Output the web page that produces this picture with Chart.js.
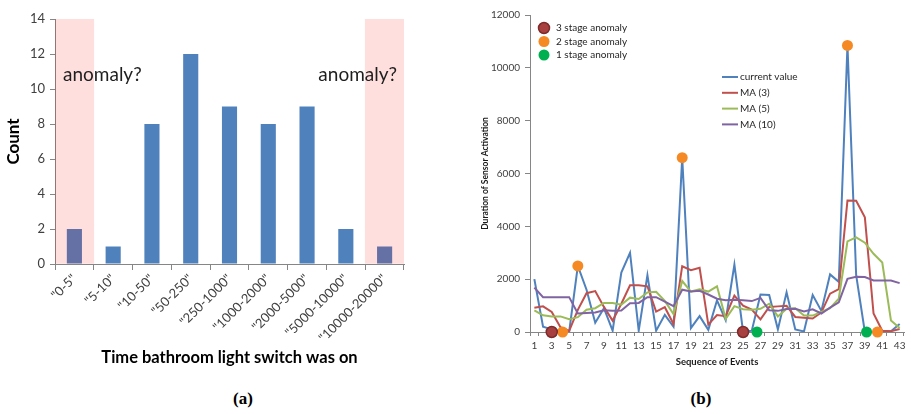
<!DOCTYPE html>
<html>
<head>
<meta charset="utf-8">
<script src="https://cdn.jsdelivr.net/npm/chart.js@4.4.1/dist/chart.umd.min.js"></script>
<style>
  html, body { margin: 0; padding: 0; background: #fff; width: 911px; height: 414px; overflow: hidden; }
  #wa { position: absolute; left: 0; top: 0; width: 455px; height: 372px; }
  #wb { position: absolute; left: 465px; top: 0; width: 446px; height: 372px; }
  .cap { position: absolute; top: 389px; font: bold 17px "Liberation Serif", serif; color: #000; transform: translateX(-50%); }
</style>
</head>
<body>
<div id="wa"><canvas id="ca" width="455" height="372"></canvas></div>
<div id="wb"><canvas id="cb" width="446" height="372"></canvas></div>
<div class="cap" style="left:243px">(a)</div>
<div class="cap" style="left:701px">(b)</div>
<script>
// ---------- (a) histogram of light-switch on-times ----------
const durationBins = ['"0-5"', '"5-10"', '"10-50"', '"50-250"', '"250-1000"', '"1000-2000"', '"2000-5000"', '"5000-10000"', '"10000-20000"'];
const binCounts = [2, 1, 8, 12, 9, 8, 9, 2, 1];
const anomalyBand = [14, null, null, null, null, null, null, null, 14];
const countTicks = [0, 2, 4, 6, 8, 10, 12, 14];
const anomalyNote = 'anomaly?';
const noteLevel = 10.8;

// ---------- (b) sensor activation durations ----------
const events = [1, 2, 3, 4, 5, 6, 7, 8, 9, 10, 11, 12, 13, 14, 15, 16, 17, 18, 19, 20, 21, 22,
  23, 24, 25, 26, 27, 28, 29, 30, 31, 32, 33, 34, 35, 36, 37, 38, 39, 40, 41, 42, 43];
const currentValue = [2000, 200, 100, 30, 0, 2500, 1600, 350, 900, 50, 2250, 3000, 50, 2150, 50, 650, 200, 6600, 150, 600, 80, 1200,
  450, 2550, 0, 50, 1420, 1400, 100, 1500, 100, 20, 1400, 800, 2180, 1900, 10850, 2150, 0, 0, 30, 30, 300];
const ma3 = [920, 970, 760, 180, 40, 840, 1470, 1550, 950, 430, 1070, 1770, 1770, 1730, 770, 940, 300, 2490, 2340, 2430, 280, 640,
  600, 1380, 1000, 850, 480, 950, 970, 990, 570, 540, 510, 740, 1450, 1620, 4980, 4970, 4340, 700, 50, 30, 110];
const ma5 = [820, 630, 590, 590, 480, 560, 840, 900, 1100, 1100, 1030, 1300, 1250, 1500, 1520, 1180, 680, 1930, 1530, 1620, 1530, 1730,
  500, 980, 860, 840, 880, 1070, 590, 880, 900, 620, 620, 760, 900, 1260, 3430, 3580, 3380, 2960, 2630, 440, 150];
const ma10 = [1680, 1320, 1320, 1320, 1320, 700, 720, 740, 820, 800, 810, 1090, 1100, 1320, 1320, 1150, 980, 1600, 1530, 1560, 1420, 1260,
  1200, 1220, 1200, 1170, 1290, 820, 800, 870, 880, 780, 860, 700, 920, 1120, 2010, 2090, 2080, 1950, 1950, 1950, 1850];
const durationTicks = [0, 2000, 4000, 6000, 8000, 10000, 12000];
const oddEventLabels = [1, 3, 5, 7, 9, 11, 13, 15, 17, 19, 21, 23, 25, 27, 29, 31, 33, 35, 37, 39, 41, 43];
const stage3Events = [3, 25];
const stage3Values = [0, 0];
const stage2Events = [4.25, 6, 18, 37, 40.45];
const stage2Values = [0, 2500, 6600, 10850, 0];
const stage1Events = [26.6, 39.2];
const stage1Values = [0, 0];

const AXIS = '#868686';
const TICK_TEXT = '#404040';
const SANS = 'Lato, "Liberation Sans", sans-serif';

Chart.defaults.font.family = SANS;

// notes written inside the shaded anomaly bins
const anomalyNotes = {
  id: 'anomalyNotes',
  afterDatasetsDraw(chart) {
    const { ctx, scales: { x, y } } = chart;
    const half = (x.getPixelForValue(1) - x.getPixelForValue(0)) / 2;
    const yy = y.getPixelForValue(noteLevel);
    ctx.save();
    ctx.font = '19px ' + SANS;
    ctx.fillStyle = '#1e1e1e';
    ctx.textBaseline = 'middle';
    ctx.textAlign = 'left';
    ctx.fillText(anomalyNote, x.getPixelForValue(0) - half + 8, yy);
    ctx.textAlign = 'right';
    ctx.fillText(anomalyNote, x.getPixelForValue(durationBins.length - 1) + half - 7, yy);
    ctx.restore();
  }
};

new Chart(document.getElementById('ca'), {
  type: 'bar',
  data: {
    labels: durationBins,
    datasets: [
      { label: 'anomaly band', data: anomalyBand, backgroundColor: 'rgba(255,0,0,0.13)',
        grouped: false, barPercentage: 1, categoryPercentage: 1, order: 0 },
      { label: 'Count', data: binCounts, backgroundColor: '#4F81BD',
        grouped: false, barPercentage: 0.39, categoryPercentage: 1, order: 1 }
    ]
  },
  options: {
    responsive: false,
    animation: false,
    layout: { padding: { left: 0, right: 51, top: 19, bottom: 0 } },
    plugins: { legend: { display: false }, tooltip: { enabled: false } },
    scales: {
      x: {
        grid: { display: true, drawOnChartArea: false, offset: true, tickLength: 6, color: AXIS },
        border: { color: AXIS },
        ticks: { minRotation: 45, maxRotation: 45, autoSkip: false, padding: 1, color: TICK_TEXT,
                 font: { size: 13 } },
        title: { display: true, text: 'Time bathroom light switch was on', color: '#000',
                 font: { size: 16.5, weight: 'bold' }, padding: { top: 0, bottom: 4 } },
        afterFit(s) { s.height = 108; }
      },
      y: {
        min: 0, max: 14,
        afterBuildTicks(s) { s.ticks = countTicks.map(v => ({ value: v })); },
        grid: { display: true, drawOnChartArea: false, tickLength: 5, color: AXIS },
        border: { color: AXIS },
        ticks: { padding: 5, color: TICK_TEXT, font: { size: 13 } },
        title: { display: true, text: 'Count', color: '#000',
                 font: { size: 17, weight: 'bold' }, padding: { top: 3, bottom: 0 } },
        afterFit(s) { s.width = 55; }
      }
    }
  },
  plugins: [anomalyNotes]
});

// two legends: anomaly stages (dots) and series (lines)
const eventLegends = {
  id: 'eventLegends',
  afterDraw(chart) {
    const { ctx, chartArea: { left, top } } = chart;
    const ds = chart.data.datasets;
    ctx.save();
    ctx.font = '10px ' + SANS;
    ctx.fillStyle = '#262626';
    ctx.textBaseline = 'middle';
    ctx.textAlign = 'left';
    ds.filter(d => d.isStage).forEach((d, k) => {
      const cy = top + 13 + k * 13.5;
      ctx.beginPath();
      ctx.arc(left + 14, cy, 5.5, 0, Math.PI * 2);
      ctx.fillStyle = d.backgroundColor;
      ctx.fill();
      if (d.borderWidth) { ctx.lineWidth = d.borderWidth; ctx.strokeStyle = d.borderColor; ctx.stroke(); }
      ctx.fillStyle = '#262626';
      ctx.fillText(d.label, left + 26, cy);
    });
    ds.filter(d => !d.isStage).forEach((d, k) => {
      const cy = top + 62 + k * 15.8;
      ctx.beginPath();
      ctx.moveTo(left + 192, cy);
      ctx.lineTo(left + 208, cy);
      ctx.lineWidth = 2;
      ctx.strokeStyle = d.borderColor;
      ctx.stroke();
      ctx.fillText(d.label, left + 210, cy);
    });
    ctx.restore();
  }
};

const pts = (xs, ys) => xs.map((x, i) => ({ x: x, y: ys[i] }));
const lineSet = (label, values, color, order) => ({
  label, data: pts(events, values), borderColor: color, backgroundColor: color,
  borderWidth: 2, pointRadius: 0, tension: 0, fill: false, order
});
const stageSet = (label, xs, ys, fill, ring) => ({
  label, data: pts(xs, ys), showLine: false, isStage: true, clip: false,
  backgroundColor: fill, borderColor: ring || fill, borderWidth: ring ? 1.5 : 0,
  pointRadius: 5.5, pointHoverRadius: 5.5, order: 0
});

new Chart(document.getElementById('cb'), {
  type: 'line',
  data: {
    datasets: [
      stageSet('3 stage anomaly', stage3Events, stage3Values, '#A8403F', '#7E2B2B'),
      stageSet('2 stage anomaly', stage2Events, stage2Values, '#F58A24'),
      stageSet('1 stage anomaly', stage1Events, stage1Values, '#00B050'),
      lineSet('current value', currentValue, '#4F81BD', 4),
      lineSet('MA (3)', ma3, '#C0504D', 3),
      lineSet('MA (5)', ma5, '#9BBB59', 2),
      lineSet('MA (10)', ma10, '#8064A2', 1)
    ]
  },
  options: {
    responsive: false,
    animation: false,
    layout: { padding: { left: 0, right: 3.5, top: 15, bottom: 0 } },
    plugins: { legend: { display: false }, tooltip: { enabled: false } },
    scales: {
      x: {
        type: 'linear', min: 0.5, max: 43.5,
        afterBuildTicks(s) { s.ticks = events.map(v => ({ value: v })); },
        grid: { display: true, drawOnChartArea: false, offset: true, tickLength: 4, color: AXIS },
        border: { color: AXIS },
        ticks: { autoSkip: false, maxRotation: 0, padding: 4, color: TICK_TEXT, font: { size: 10 },
                 callback: v => oddEventLabels.includes(v) ? String(v) : '' },
        title: { display: true, text: 'Sequence of Events', color: '#1a1a1a',
                 font: { size: 9.5, weight: 'bold' }, padding: { top: 0, bottom: 4 } },
        afterFit(s) { s.height = 40; }
      },
      y: {
        min: 0, max: 12000,
        afterBuildTicks(s) { s.ticks = durationTicks.map(v => ({ value: v })); },
        grid: { display: true, drawOnChartArea: false, tickLength: 5, color: AXIS },
        border: { color: AXIS },
        ticks: { padding: 5, color: TICK_TEXT, font: { size: 10 }, callback: v => String(v) },
        title: { display: true, text: 'Duration of Sensor Activation', color: '#1a1a1a',
                 font: { size: 8.5, weight: 'bold' }, padding: { top: 15, bottom: 0 } },
        afterFit(s) { s.width = 65; }
      }
    }
  },
  plugins: [eventLegends]
});
</script>
</body>
</html>
